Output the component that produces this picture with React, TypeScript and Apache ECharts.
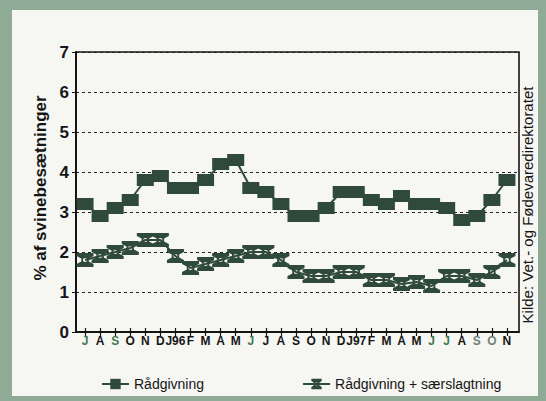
import React, { useEffect, useRef } from "react";
import * as echarts from "echarts";

// Month labels, July 1995 – November 1997
const months = [
  "J", "A", "S", "O", "N", "D", "J96", "F", "M", "A", "M", "J", "J", "A", "S",
  "O", "N", "D", "J97", "F", "M", "A", "M", "J", "J", "A", "S", "O", "N",
];
// Print colour of each month label
const monthColors = [
  "#3f7a52", "#151515", "#3f7a52", "#151515", "#151515", "#151515", "#151515",
  "#151515", "#151515", "#151515", "#151515", "#3f7a52", "#151515", "#151515",
  "#151515", "#151515", "#151515", "#151515", "#151515", "#151515", "#151515",
  "#151515", "#151515", "#3f7a52", "#3f7a52", "#151515", "#6f847a", "#6f847a",
  "#151515",
];

// % of pig herds
const raadgivning = [
  3.2, 2.9, 3.1, 3.3, 3.8, 3.9, 3.6, 3.6, 3.8, 4.2, 4.3, 3.6, 3.5, 3.2, 2.9,
  2.9, 3.1, 3.5, 3.5, 3.3, 3.2, 3.4, 3.2, 3.2, 3.1, 2.8, 2.9, 3.3, 3.8,
];
const raadgivningSaerslagtning = [
  1.8, 1.9, 2.0, 2.1, 2.3, 2.3, 1.9, 1.6, 1.7, 1.8, 1.9, 2.0, 2.0, 1.8, 1.5,
  1.4, 1.4, 1.5, 1.5, 1.3, 1.3, 1.2, 1.25, 1.15, 1.4, 1.4, 1.3, 1.5, 1.8,
];

const seriesNames = ["Rådgivning", "Rådgivning + særslagtning"];
const yMin = 0;
const yMax = 7;
const yStep = 1;
const sourceText = "Kilde: Vet.- og Fødevaredirektoratet";

const FONT = "'Liberation Sans', Arial, Helvetica, sans-serif";
const INK = "#151515";
const MARK = "#2f4a3b";

// hourglass marker with a small round hole in its waist
const HOURGLASS =
  "path://M0,0H16V3L11.5,5.5V8.5L16,11V14H0V11L4.5,8.5V5.5L0,3Z" +
  "M10,7A2,2 0 1 0 6,7A2,2 0 1 0 10,7Z";

export default function App() {
  const ref = useRef<HTMLDivElement>(null);

  useEffect(() => {
    if (!ref.current) return;
    const chart = echarts.init(ref.current, null, { renderer: "svg" });
    const idx = months.map((_, i) => i);

    chart.setOption({
      animation: false,
      backgroundColor: "#8fab95",
      graphic: [
        {
          type: "rect",
          z: -10,
          shape: { x: 12, y: 10, width: 526, height: 386 },
          style: { fill: "#f6f6f3" },
        },
        {
          type: "text",
          x: 527,
          y: 205,
          rotation: Math.PI / 2,
          style: {
            text: sourceText,
            font: `15px ${FONT}`,
            fill: INK,
            textAlign: "center",
            textVerticalAlign: "middle",
          },
        },
      ],
      grid: {
        left: 76,
        right: 27,
        top: 52,
        bottom: 69,
        show: true,
        borderColor: INK,
        borderWidth: 1.6,
        backgroundColor: "transparent",
      },
      legend: {
        left: 96,
        top: 372,
        itemWidth: 27,
        itemHeight: 13,
        itemGap: 98,
        data: seriesNames,
        textStyle: { fontFamily: FONT, fontSize: 14, color: INK },
      },
      xAxis: [
        {
          type: "value",
          min: -0.6,
          max: 28.8,
          splitLine: { show: false },
          axisLine: { onZero: false, lineStyle: { color: INK, width: 2 } },
          axisTick: {
            customValues: idx,
            length: 4,
            lineStyle: { color: INK, width: 1.2 },
          },
          axisLabel: {
            customValues: idx,
            margin: 3,
            fontFamily: FONT,
            fontSize: 12,
            fontWeight: "bold",
            formatter: (v: number) => months[Math.round(v)] ?? "",
            color: (v: string) => monthColors[Math.round(Number(v))] ?? INK,
          },
        },
        {
          type: "value",
          min: -0.6,
          max: 28.8,
          position: "bottom",
          splitLine: { show: false },
          axisLine: { show: false, onZero: false },
          axisLabel: { show: false },
          axisTick: {
            customValues: idx,
            inside: true,
            length: 4,
            lineStyle: { color: INK, width: 1.2 },
          },
        },
      ],
      yAxis: {
        type: "value",
        min: yMin,
        max: yMax,
        interval: yStep,
        name: "% af svinebesætninger",
        nameLocation: "middle",
        nameGap: 17,
        nameTextStyle: {
          fontFamily: FONT,
          fontSize: 17,
          fontWeight: "bold",
          color: INK,
          padding: [0, 0, 0, 8],
        },
        axisLine: {
          show: true,
          onZero: false,
          lineStyle: { color: INK, width: 2 },
        },
        axisTick: { show: true, length: 4, lineStyle: { color: INK } },
        axisLabel: {
          margin: 7,
          fontFamily: FONT,
          fontSize: 17,
          fontWeight: "bold",
          color: INK,
        },
        splitLine: {
          show: true,
          lineStyle: { color: "#222", width: 1, type: [3, 3] },
        },
      },
      series: [
        {
          name: seriesNames[0],
          type: "line",
          data: raadgivning.map((v, i) => [i, v]),
          symbol: "rect",
          symbolSize: [17, 12],
          lineStyle: { color: MARK, width: 2 },
          itemStyle: { color: MARK },
        },
        {
          name: seriesNames[1],
          type: "line",
          data: raadgivningSaerslagtning.map((v, i) => [i, v]),
          symbol: HOURGLASS,
          symbolSize: [17, 14],
          lineStyle: { color: MARK, width: 2 },
          itemStyle: { color: MARK },
        },
      ],
    });

    return () => chart.dispose();
  }, []);

  return (
    <div
      ref={ref}
      style={{ position: "fixed", left: 0, top: 0, width: 546, height: 401 }}
    />
  );
}
